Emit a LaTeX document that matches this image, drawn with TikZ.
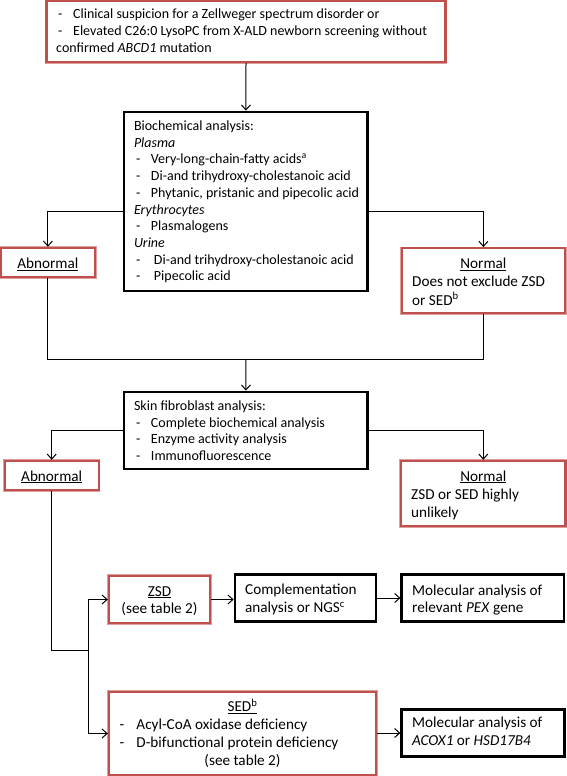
\documentclass[tikz,border=0pt]{standalone}
\usepackage{fontspec}
\setmainfont{Carlito}
\usetikzlibrary{arrows.meta,calc}
\definecolor{boxred}{RGB}{192,80,77}
\newcommand{\dl}[2]{\hspace*{2pt}\makebox[#1][l]{-}#2}
\newcommand{\LL}[1]{\begin{tabular}[t]{@{}l@{}}#1\end{tabular}}
\newcommand{\CC}[1]{\begin{tabular}[t]{@{}c@{}}#1\end{tabular}}
\begin{document}
\begin{tikzpicture}[x=1pt,y=-1pt,
  redbox/.style={draw=boxred, line width=2.4pt, inner sep=0pt, fill=white,
    preaction={draw=boxred!55, line width=3.4pt}},
  blackbox/.style={draw=black, line width=2.7pt, inner sep=0pt, fill=white},
  txt/.style={inner sep=0pt, anchor=base west, font=\fontsize{14}{16.7}\selectfont},
  stxt/.style={inner sep=0pt, anchor=base west, font=\fontsize{15.2}{#1}\selectfont},
  ctxt/.style={inner sep=0pt, anchor=base, font=\fontsize{15.2}{17.5}\selectfont},
  conn/.style={line width=1pt},
  arr/.style={conn, -{Straight Barb[length=5pt,width=9pt]}}]
\fill[white] (0,0) rectangle (567,776);
\useasboundingbox (0,0) rectangle (567,776);

% boxes
\node[redbox, minimum width=399.3pt, minimum height=61pt] (b1) at (246,31.5) {};
\node[blackbox, minimum width=243.8pt, minimum height=179pt] (b2) at (245.9,201.5) {};
\node[redbox, minimum width=93.8pt, minimum height=29pt] (ab1) at (47.9,262.5) {};
\node[redbox, minimum width=163.3pt, minimum height=64.7pt] (n1) at (483.4,280.6) {};
\node[blackbox, minimum width=243.8pt, minimum height=77pt] (b3) at (245.9,430.5) {};
\node[redbox, minimum width=94pt, minimum height=29pt] (ab2) at (51.7,475.5) {};
\node[redbox, minimum width=164.7pt, minimum height=65pt] (n2) at (483.3,493.5) {};
\node[redbox, minimum width=101pt, minimum height=47pt] (zsd) at (159.5,599.5) {};
\node[blackbox, minimum width=141pt, minimum height=47.2pt] (comp) at (305.5,598) {};
\node[blackbox, minimum width=162.3pt, minimum height=47.4pt] (mol1) at (482.9,598) {};
\node[redbox, minimum width=267pt, minimum height=83pt] (sed) at (242.5,733.5) {};
\node[blackbox, minimum width=163pt, minimum height=47.4pt] (mol2) at (483.2,733) {};

% texts
\node[txt] (t1) at (56,19) {\LL{\dl{15pt}{Clinical suspicion for a Zellweger spectrum disorder or}\\
 \dl{15pt}{Elevated C26:0 LysoPC from X-ALD newborn screening without}\\
 confirmed \textit{ABCD1} mutation}};
\node[txt] (t2) at (133.8,130.5) {\LL{Biochemical analysis:\\
 \textit{Plasma}\\
 \dl{15pt}{Very-long-chain-fatty acids\textsuperscript{a}}\\
 \dl{15pt}{Di-and trihydroxy-cholestanoic acid}\\
 \dl{15pt}{Phytanic, pristanic and pipecolic acid}\\
 \textit{Erythrocytes}\\
 \dl{15pt}{Plasmalogens}\\
 \textit{Urine}\\
 \dl{18pt}{Di-and trihydroxy-cholestanoic acid}\\
 \dl{18pt}{Pipecolic acid}}};
\node[ctxt] (tab1) at (47.9,268.3) {\underline{Abnormal}};
\node[ctxt] (tn1a) at (483.4,268.3) {\underline{Normal}};
\node[stxt=18.3] (tn1b) at (412,286.7) {\LL{Does not exclude ZSD\\ or SED\textsuperscript{b}}};
\node[txt] (t3) at (133.8,410.5) {\LL{Skin fibroblast analysis:\\
 \dl{15pt}{Complete biochemical analysis}\\
 \dl{15pt}{Enzyme activity analysis}\\
 \dl{15pt}{Immunofluorescence}}};
\node[ctxt] (tab2) at (51.7,481) {\underline{Abnormal}};
\node[ctxt] (tn2a) at (483.3,481) {\underline{Normal}};
\node[stxt=18.3] (tn2b) at (411,499.3) {\LL{ZSD or SED highly\\ unlikely}};
\node[ctxt] (tzsd) at (159.5,596) {\CC{\underline{ZSD}\\ (see table 2)}};
\node[stxt=18] (tcomp) at (245,594.3) {\LL{Complementation\\ analysis or NGS\textsuperscript{c}}};
\node[stxt=17] (tmol1) at (412,595) {\LL{Molecular analysis of\\ relevant \textit{PEX} gene}};
\node[ctxt] (tseda) at (242.5,711.7) {\underline{SED\textsuperscript{b}}};
\node[stxt=18.3] (tsedb) at (117.3,729) {\LL{\dl{17pt}{Acyl-CoA oxidase deficiency}\\ \dl{17pt}{D-bifunctional protein deficiency}}};
\node[ctxt] (tsedc) at (242.5,765) {(see table 2)};
\node[stxt=17.3] (tmol2) at (412,727.7) {\LL{Molecular analysis of\\ \textit{ACOX1} or \textit{HSD17B4}}};

% connectors
\coordinate (m1) at (246,359);
\coordinate (j) at (88.3,650);
\draw[arr] (b1.south) -- (b2.north);
\draw[arr] ($(b2.west)+(0,9.5)$) -| (ab1.north);
\draw[arr] ($(b2.east)+(0,9.5)$) -| (n1.north);
\draw[conn] (ab1.south) |- (n1.south |- m1) -- (n1.south);
\draw[arr] (m1) -- (b3.north);
\draw[arr] (b3.west) -| (ab2.north);
\draw[arr] (b3.east) -| (n2.north);
\draw[conn] (ab2.south) |- (j);
\draw[arr] (j) |- (zsd.west);
\draw[arr] (j) |- (sed.west);
\draw[arr] (zsd.east) -- (zsd.east -| comp.west);
\draw[arr] (comp.east) -- (comp.east -| mol1.west);
\draw[arr] (sed.east |- mol2.west) -- (mol2.west);
\end{tikzpicture}
\end{document}
